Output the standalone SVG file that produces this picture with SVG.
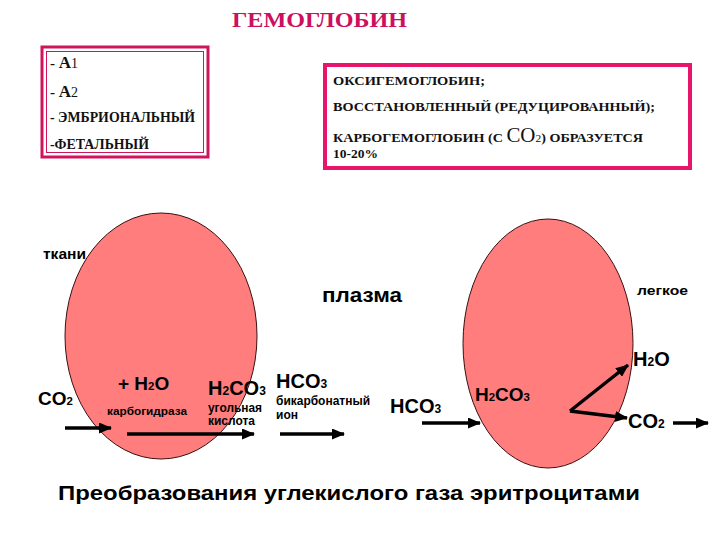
<svg xmlns="http://www.w3.org/2000/svg" width="720" height="540" viewBox="0 0 720 540">
<style>
.serif{font-family:"Liberation Serif","Times New Roman",serif;font-weight:bold;fill:#111}
.sans{font-family:"Liberation Sans",Arial,sans-serif;font-weight:bold;fill:#000}
.cell{fill:#FF7D7D;stroke:#3a1010;stroke-width:1}
.arr{stroke:#000;stroke-width:3.5;fill:none;marker-end:url(#ah)}
.sub{font-size:0.6em}
</style>
<defs>
<marker id="ah" markerUnits="userSpaceOnUse" markerWidth="13" markerHeight="11" refX="12" refY="5.5" orient="auto">
<path d="M0,0 L13,5.5 L0,11 Z" fill="#000"/>
</marker>
</defs>
<rect width="720" height="540" fill="#fff"/>

<g id="title">
<text class="serif" x="232" y="27" font-size="22" style="fill:#CC1060" textLength="175" lengthAdjust="spacingAndGlyphs">ГЕМОГЛОБИН</text>
</g>

<g id="types-box">
<rect x="42" y="47" width="166" height="110" fill="#fff" stroke="#D0145C" stroke-width="3"/>
<rect x="46.5" y="51.5" width="157" height="101" fill="none" stroke="#D0145C" stroke-width="1"/>
<text class="serif" x="50" y="68" font-size="15">- <tspan font-size="17">A</tspan><tspan font-size="14" font-weight="normal">1</tspan></text>
<text class="serif" x="50" y="97" font-size="15">- <tspan font-size="17">A</tspan><tspan font-size="14" font-weight="normal">2</tspan></text>
<text class="serif" x="50" y="122" font-size="14" textLength="145" lengthAdjust="spacingAndGlyphs">- ЭМБРИОНАЛЬНЫЙ</text>
<text class="serif" x="50" y="149" font-size="14" textLength="99" lengthAdjust="spacingAndGlyphs">-ФЕТАЛЬНЫЙ</text>
</g>

<g id="forms-box">
<rect x="325" y="65" width="365" height="103" fill="#fff" stroke="#E8166A" stroke-width="4"/>
<text class="serif" x="333" y="85" font-size="13.5" textLength="152" lengthAdjust="spacingAndGlyphs">ОКСИГЕМОГЛОБИН;</text>
<text class="serif" x="333" y="111" font-size="13.5" textLength="322" lengthAdjust="spacingAndGlyphs">ВОССТАНОВЛЕННЫЙ (РЕДУЦИРОВАННЫЙ);</text>
<text class="serif" x="333" y="142" font-size="13.5" textLength="310" lengthAdjust="spacingAndGlyphs">КАРБОГЕМОГЛОБИН (С <tspan font-size="20" font-weight="normal">CO</tspan><tspan font-size="11" font-weight="normal">2</tspan>) ОБРАЗУЕТСЯ</text>
<text class="serif" x="333" y="158" font-size="13.5" textLength="45" lengthAdjust="spacingAndGlyphs">10-20%</text>
</g>

<g id="cell-tissue">
<ellipse class="cell" cx="161" cy="336" rx="96" ry="123"/>
</g>
<g id="cell-lung">
<ellipse class="cell" cx="548" cy="343.5" rx="85" ry="124.5"/>
</g>

<g id="labels">
<text class="sans" x="43" y="259" font-size="14" textLength="43" lengthAdjust="spacingAndGlyphs">ткани</text>
<text class="sans" x="322" y="302" font-size="21" textLength="80" lengthAdjust="spacingAndGlyphs">плазма</text>
<text class="sans" x="637" y="295" font-size="13" textLength="51" lengthAdjust="spacingAndGlyphs">легкое</text>
</g>

<g id="tissue-reaction">
<text class="sans" x="38" y="405" font-size="19">CO<tspan class="sub">2</tspan></text>
<text class="sans" x="118" y="390" font-size="19">+ H<tspan class="sub">2</tspan>O</text>
<text class="sans" x="107" y="415" font-size="11.5" textLength="80" lengthAdjust="spacingAndGlyphs">карбогидраза</text>
<text class="sans" x="208" y="395" font-size="20">H<tspan class="sub">2</tspan>CO<tspan class="sub">3</tspan></text>
<text class="sans" x="208" y="412" font-size="12" textLength="54" lengthAdjust="spacingAndGlyphs">угольная</text>
<text class="sans" x="208" y="425" font-size="12" textLength="47" lengthAdjust="spacingAndGlyphs">кислота</text>
<text class="sans" x="276" y="388" font-size="20">HCO<tspan class="sub">3</tspan></text>
<text class="sans" x="276" y="405" font-size="12" textLength="94" lengthAdjust="spacingAndGlyphs">бикарбонатный</text>
<text class="sans" x="276" y="419" font-size="12">ион</text>
</g>

<g id="lung-reaction">
<text class="sans" x="390" y="413" font-size="20">HCO<tspan class="sub">3</tspan></text>
<text class="sans" x="475" y="401" font-size="19">H<tspan class="sub">2</tspan>CO<tspan class="sub">3</tspan></text>
<text class="sans" x="633" y="366" font-size="20">H<tspan class="sub">2</tspan>O</text>
<text class="sans" x="628" y="428" font-size="20">CO<tspan class="sub">2</tspan></text>
</g>

<g id="connectors">
<line class="arr" x1="65" y1="428" x2="111" y2="428"/>
<line class="arr" x1="127" y1="434" x2="254" y2="434"/>
<line class="arr" x1="280" y1="434" x2="344" y2="434"/>
<line class="arr" x1="422" y1="423" x2="480" y2="423"/>
<line class="arr" x1="570" y1="411" x2="628" y2="365"/>
<line class="arr" x1="570" y1="411" x2="627" y2="418"/>
<line class="arr" x1="673" y1="423" x2="708" y2="423"/>
</g>

<g id="caption">
<text class="sans" x="58" y="500" font-size="21" textLength="582" lengthAdjust="spacingAndGlyphs">Преобразования углекислого газа эритроцитами</text>
</g>
</svg>
